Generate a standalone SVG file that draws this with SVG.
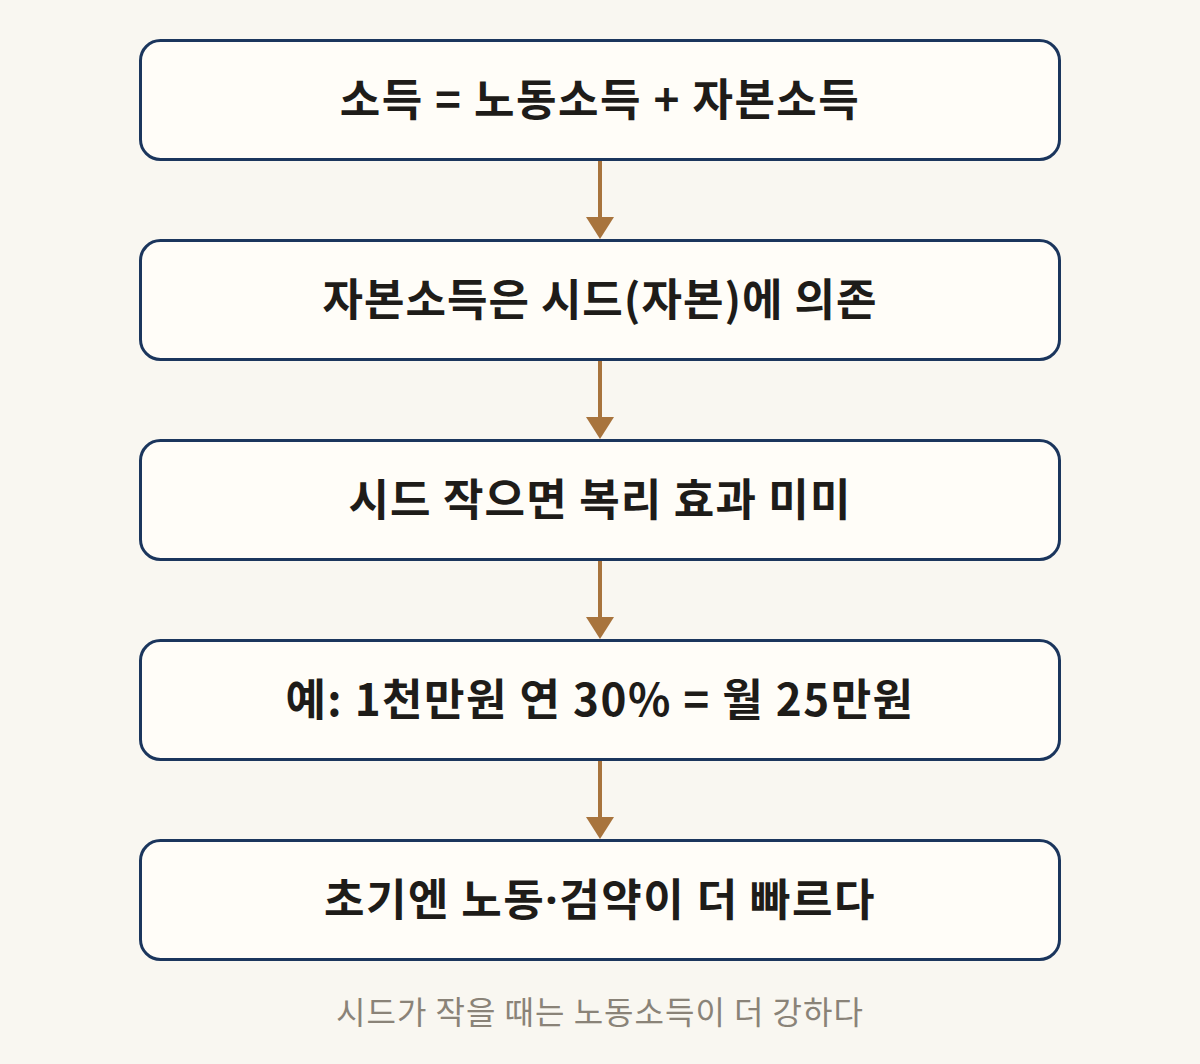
<svg xmlns="http://www.w3.org/2000/svg" width="1200" height="1064" viewBox="0 0 1200 1064">
<defs>
<style>
.box{fill:#fffdf8;stroke:#1b365d;stroke-width:3}
.t{font-family:"Noto Sans CJK KR","Noto Sans",sans-serif;font-size:44px;font-weight:700;fill:#1e1c19;text-anchor:middle;letter-spacing:1.5px}
.cap{font-family:"Noto Sans CJK KR","Noto Sans",sans-serif;font-size:32px;fill:#8a8378;text-anchor:middle;letter-spacing:1px}
.edge{stroke:#a8743d;stroke-width:4;fill:none}
.head{fill:#a8743d}
.dot{font-family:"Noto Sans","Liberation Sans",sans-serif}
</style>
</defs>
<rect width="1200" height="1064" fill="#f9f7f1"/>
<g id="connectors">
<path class="edge" d="M600,160 V218"/><path class="head" d="M586,217 H614 L600,239 Z"/>
<path class="edge" d="M600,360 V418"/><path class="head" d="M586,417 H614 L600,439 Z"/>
<path class="edge" d="M600,560 V618"/><path class="head" d="M586,617 H614 L600,639 Z"/>
<path class="edge" d="M600,760 V818"/><path class="head" d="M586,817 H614 L600,839 Z"/>
</g>
<g id="n1"><rect class="box" x="140.5" y="40.5" width="919" height="119" rx="20"/><text class="t" x="600" y="116">소득 = 노동소득 + 자본소득</text></g>
<g id="n2"><rect class="box" x="140.5" y="240.5" width="919" height="119" rx="20"/><text class="t" x="600" y="316" style="letter-spacing:1px">자본소득은 시드(자본)에 의존</text></g>
<g id="n3"><rect class="box" x="140.5" y="440.5" width="919" height="119" rx="20"/><text class="t" x="600" y="516" style="letter-spacing:1.2px">시드 작으면 복리 효과 미미</text></g>
<g id="n4"><rect class="box" x="140.5" y="640.5" width="919" height="119" rx="20"/><text class="t" x="600" y="716">예: 1천만원 연 30% = 월 25만원</text></g>
<g id="n5"><rect class="box" x="140.5" y="840.5" width="919" height="119" rx="20"/><text class="t" x="600" y="916">초기엔 노동<tspan class="dot">·</tspan>검약이 더 빠르다</text></g>
<text class="cap" x="600" y="1024">시드가 작을 때는 노동소득이 더 강하다</text>
</svg>
